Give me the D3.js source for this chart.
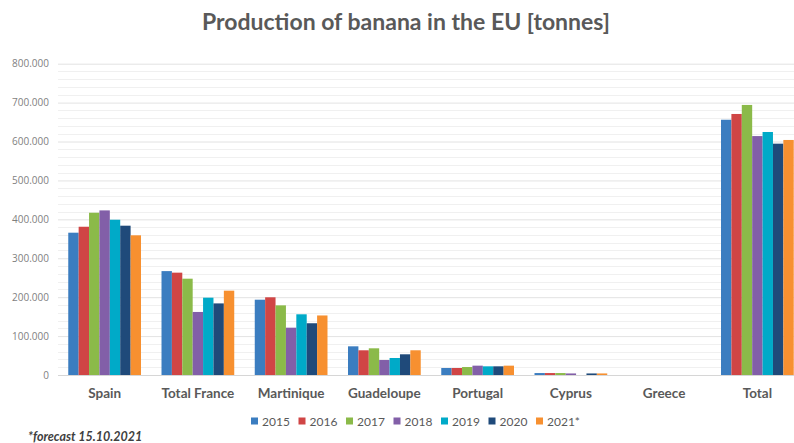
<!DOCTYPE html>
<html>
<head>
<meta charset="utf-8">
<script src="https://cdn.jsdelivr.net/npm/d3@7"></script>
<style>
	html, body { margin: 0; padding: 0; background: #fff; }
	svg { display: block; overflow: hidden; font-family: Lato, 'Open Sans', sans-serif; }
</style>
</head>
<body>
<div id="chart"></div>
<script>
// categories and series (tonnes)
const categories = ['Spain', 'Total France', 'Martinique', 'Guadeloupe', 'Portugal', 'Cyprus', 'Greece', 'Total']
const years = ['2015', '2016', '2017', '2018', '2019', '2020', '2021*']
const v2015 = [365700, 267000, 193500, 73700, 18000, 5000, 0, 656000]
const v2016 = [381000, 263000, 199700, 63500, 18000, 5000, 0, 670800]
const v2017 = [417000, 247500, 179000, 68600, 20500, 5000, 0, 694000]
const v2018 = [423000, 162000, 121600, 38500, 24000, 4000, 0, 614000]
const v2019 = [399000, 198700, 156000, 43700, 22300, 0, 0, 624500]
const v2020 = [383700, 184000, 133000, 53200, 22300, 4000, 0, 594500]
const v2021 = [359000, 216700, 153000, 63500, 24000, 4000, 0, 604000]
const yTicks = [0, 100000, 200000, 300000, 400000, 500000, 600000, 700000, 800000]
const colors = ['#3b7dc0', '#d04545', '#8bba49', '#825fa8', '#00aac8', '#1f4a7a', '#f79030']

const series = [v2015, v2016, v2017, v2018, v2019, v2020, v2021]

const W = 794, H = 443
const m = { top: 63.7, left: 58, bottomY: 375 }
const plotRight = 804 // plot runs a little past the visible edge

const svg = d3.select('#chart').append('svg').attr('width', W).attr('height', H)

const x0 = d3.scaleBand().domain(categories).range([m.left, plotRight]).paddingInner(0.22).paddingOuter(0.11)
const x1 = d3.scaleBand().domain(years).range([0, x0.bandwidth()])
const y = d3.scaleLinear().domain([0, 800000]).range([m.bottomY, m.top])

// minor grid every 20.000
const minor = d3.range(20000, 800001, 20000).filter((d) => d % 100000 !== 0)
svg.append('g')
	.selectAll('line')
	.data(minor)
	.join('line')
	.attr('x1', m.left)
	.attr('x2', W)
	.attr('y1', (d) => Math.round(y(d)) + 0.5)
	.attr('y2', (d) => Math.round(y(d)) + 0.5)
	.attr('stroke', '#f0f0f0')

// major grid + tick labels
const yAxis = d3.axisLeft(y).tickValues(yTicks).tickSize(-(W - m.left)).tickFormat((d) => d3.format(',')(d).replace(/,/g, '.'))
const gy = svg.append('g').attr('transform', `translate(${m.left},0)`).call(yAxis)
gy.select('.domain').remove()
gy.selectAll('.tick line').attr('stroke', (d) => (d === 0 ? '#d6d6d6' : '#e3e3e3'))
gy.selectAll('.tick text')
	.attr('x', -9)
	.attr('fill', '#7f7f7f')
	.style('font-size', '10px')
	.style('font-family', "'Open Sans', sans-serif")

// bars
const groups = svg.append('g')
	.selectAll('g')
	.data(categories)
	.join('g')
	.attr('transform', (d) => `translate(${x0(d)},0)`)

groups.selectAll('rect')
	.data((c, ci) => years.map((yr, si) => ({ yr, si, v: series[si][ci] })))
	.join('rect')
	.attr('x', (d) => x1(d.yr))
	.attr('width', x1.bandwidth())
	.attr('y', (d) => y(d.v))
	.attr('height', (d) => y(0) - y(d.v))
	.attr('fill', (d) => colors[d.si])

// category labels
svg.append('g')
	.selectAll('text')
	.data(categories)
	.join('text')
	.attr('x', (d) => x0(d) + x0.bandwidth() / 2)
	.attr('y', 398)
	.attr('text-anchor', 'middle')
	.attr('fill', '#595959')
	.style('font-size', '13.5px')
	.style('font-weight', 'bold')
	.text((d) => d)

// title
svg.append('text')
	.attr('x', 406)
	.attr('y', 30)
	.attr('text-anchor', 'middle')
	.attr('fill', '#595959')
	.style('font-size', '23px')
	.style('font-weight', 'bold')
	.text('Production of banana in the EU [tonnes]')

// legend
const legend = svg.append('g')
	.selectAll('g')
	.data(years)
	.join('g')
	.attr('transform', (d, i) => `translate(${251 + i * 47.5},421)`)
legend.append('rect').attr('x', 0).attr('y', -3.5).attr('width', 7).attr('height', 7).attr('fill', (d, i) => colors[i])
legend.append('text')
	.attr('x', 11)
	.attr('y', 4.5)
	.attr('fill', '#595959')
	.style('font-size', '12px')
	.text((d) => d)

// footnote
svg.append('text')
	.attr('x', 28)
	.attr('y', 441)
	.attr('fill', '#404040')
	.style('font-size', '12.5px')
	.style('font-style', 'italic')
	.style('font-weight', 'bold')
	.text('*forecast 15.10.2021')
</script>
</body>
</html>
